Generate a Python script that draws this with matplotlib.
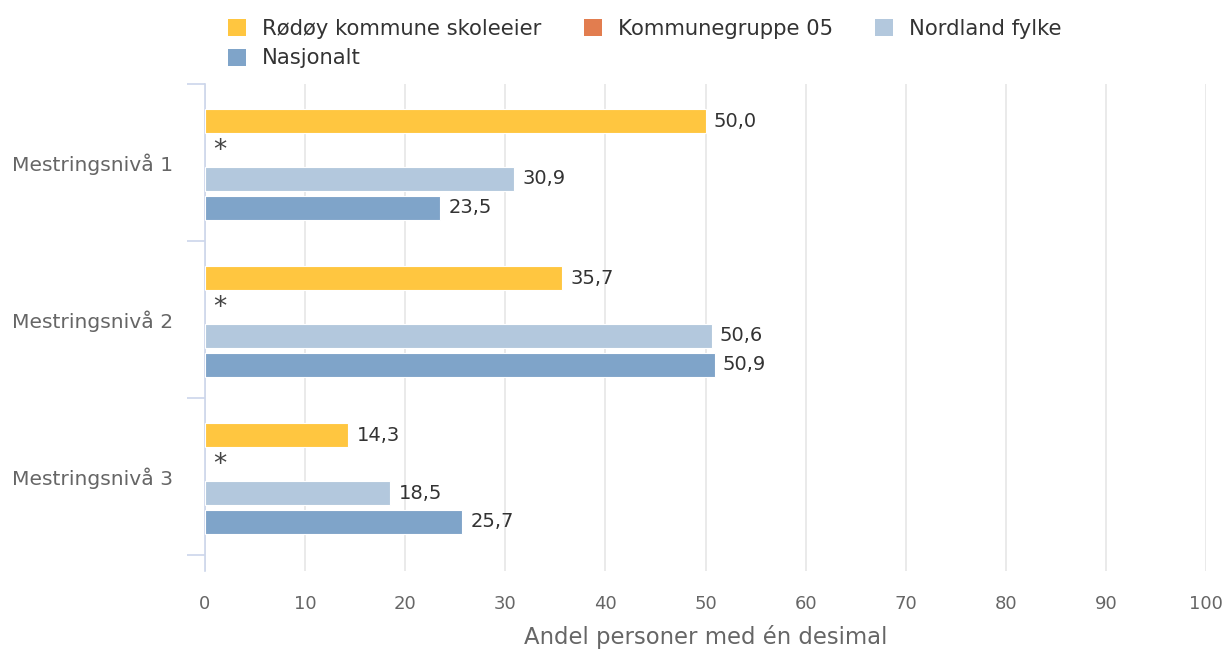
import matplotlib
matplotlib.use("Agg")
import matplotlib.pyplot as plt
from matplotlib.patches import Patch
import numpy as np

categories = ["Mestringsnivå 1", "Mestringsnivå 2", "Mestringsnivå 3"]
series_names = ["Rødøy kommune skoleeier", "Kommunegruppe 05", "Nordland fylke", "Nasjonalt"]
rodoy = [50.0, 35.7, 14.3]
kommunegruppe = [None, None, None]
nordland = [30.9, 50.6, 18.5]
nasjonalt = [23.5, 50.9, 25.7]
colors = ["#FFC640", "#E27D4F", "#B3C8DD", "#7FA4C9"]
x_ticks = [0, 10, 20, 30, 40, 50, 60, 70, 80, 90, 100]
x_label = "Andel personer med én desimal"

plt.rcParams['font.family'] = ['DejaVu Sans']

W, H = 1230, 651
fig = plt.figure(figsize=(W / 100, H / 100), dpi=100)
ax = fig.add_axes([205 / W, 80 / H, 1001 / W, 487 / H])

all_series = [rodoy, kommunegruppe, nordland, nasjonalt]
step = 0.184
height = 0.15
shift = 0.012
y = np.arange(len(categories))
for i, (vals, col) in enumerate(zip(all_series, colors)):
    off = (i - 1.5) * step + shift
    for j, v in enumerate(vals):
        yy = y[j] + off
        if v is None:
            ax.text(1.5, yy + 0.004, "*", ha="center", va="center", fontsize=19, color="#444444")
            continue
        ax.barh(yy, v, height=height, color=col, edgecolor="white", linewidth=0.8, zorder=3)
        ax.annotate(f"{v:.1f}".replace(".", ","), xy=(v, yy), xytext=(6, 0),
                    textcoords="offset points", ha="left", va="center",
                    fontsize=14, color="#333333", zorder=4)

ax.set_xlim(0, 100)
ax.set_ylim(2.6, -0.5)
ax.set_xticks(x_ticks)
ax.set_xticklabels([str(t) for t in x_ticks], fontsize=13, color="#666666")
ax.tick_params(axis="x", length=0, pad=17)
ax.set_yticks(y)
ax.set_yticklabels(categories, fontsize=14.6, color="#666666")
ax.tick_params(axis="y", which="major", length=0, pad=23)
ax.set_yticks([-0.5, 0.5, 1.5, 2.5], minor=True)
ax.tick_params(axis="y", which="minor", length=13, width=1.2, color="#CCD6EB", direction="out")
ax.grid(axis="x", color="#E6E6E6", linewidth=1.2, zorder=0)
ax.set_axisbelow(True)
for s in ["top", "right", "bottom"]:
    ax.spines[s].set_visible(False)
ax.spines["left"].set_color("#CCD6EB")
ax.spines["left"].set_linewidth(1.2)
ax.set_xlabel(x_label, fontsize=16.4, color="#666666", labelpad=9)

handles = [Patch(facecolor=c, edgecolor="none") for c in colors]
order = [0, 3, 1, 2]
leg = fig.legend([handles[k] for k in order], [series_names[k] for k in order],
                 ncol=3, loc="upper left", bbox_to_anchor=(228 / W, 1 - 19 / H),
                 borderaxespad=0, borderpad=0,
                 frameon=False, fontsize=15.2, handlelength=0.85, handleheight=0.85,
                 handletextpad=0.76, columnspacing=2.0, labelspacing=0.45,
                 labelcolor="#333333")

fig.savefig("out.png", dpi=100)
